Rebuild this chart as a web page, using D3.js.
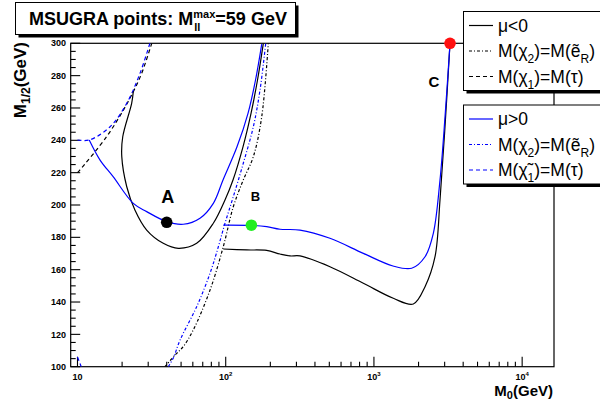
<!DOCTYPE html>
<html><head><meta charset="utf-8">
<script src="https://cdn.jsdelivr.net/npm/d3@7"></script>
<style>body{margin:0;background:#fff}svg{display:block}</style>
</head><body>
<script>
// ---------- data (M0 [GeV], M1/2 [GeV]) ----------
const xMajorTicks = [10, 100, 1000, 10000];
const xTickLabels = [["10",""],["10","2"],["10","3"],["10","4"]];
const yMajorTicks = [100,120,140,160,180,200,220,240,260,280,300];

// mu<0 (black) solid contour, U-shaped branch
const negSolidU = [[23.8,270.1],[23.2,262.9],[20.2,242.2],[19.9,229.9],[21.5,211.3],[24.4,196.9],[29.3,184.5],[37.9,176.3],[47.9,173.2],[63.7,176.3],[82.5,188.7],[98.9,203.1],[112,215.5],[130.8,236],[148.2,256.7],[163.9,277.3],[179.4,300]];
// mu<0 solid contour, right branch
const negSolidR = [[96.3,172.8],[138.6,172.2],[189,171.9],[232.4,169.7],[271.6,168.5],[317,168.5],[505,161.8],[848,151.6],[1351,142.3],[1844,138.8],[2212,149.5],[2583,168],[2791,203.1],[3000,245],[3261,300]];
// mu>0 (blue) solid contour, U-shaped branch
const posSolidU = [[12,240.2],[14.2,227.8],[17.4,217.5],[23.8,201],[29.3,195.9],[40,189.7],[51.7,188.1],[67.1,191.8],[82.5,201],[95.9,215.5],[119.2,236],[141.4,256.7],[158.9,277.3],[175,299.5]];
// mu>0 solid contour, right branch
const posSolidR = [[96.3,187.6],[148.9,187.4],[189,186.6],[232.4,185],[317,184.5],[505,179.4],[848,170.1],[1345,162.3],[1798,160.9],[2212,168],[2516,182.5],[2791,215.5],[3020,255],[3261,300]];
// M(chi2)=M(eR) lines (dash-dot)
const negChi2 = [[38.9,100],[45.5,107.2],[51.5,112.2],[60.4,122.7],[78.4,147.4],[96.3,174.2],[112.5,198.9],[131.4,215.5],[153.6,229.9],[175,254.6],[193.8,300]];
const posChi2 = [[41,100],[44.3,105.4],[49.2,116.5],[63.7,137.1],[78.4,157.8],[89.2,174.2],[98.9,188.7],[112.5,205.1],[131.4,225.8],[153.6,248.4],[170.4,271.1],[186.2,300]];
// M(chi1)=M(stau) lines (dashed)
const negChi1 = [[10,220],[10.4,221.7],[15.7,242.2],[20.4,258.7],[23.8,270.1],[27.1,281.4],[31.7,300]];
const posChi1 = [[10,240.2],[12,240.2],[16.6,248.4],[21.5,262.9],[26.4,281.4],[30.8,300]];
const posChi1Low = [[10,106],[10.6,100]];
// benchmark points
const pointNames = ["A","B","C"];
const pointM0 = [40, 149, 3261];
const pointM12 = [189.3, 187.5, 300];
const pointColors = ["#000000", "#22ee22", "#ff1010"];

// ---------- drawing ----------
const W = 600, H = 402;
const FONT = "'Liberation Sans', Arial, Helvetica, sans-serif";
const svg = d3.select("body").append("svg").attr("width", W).attr("height", H)
  .style("font-family", FONT);

const x = d3.scaleLog().domain([9, 16400]).range([70.7, 554]);
const y = d3.scaleLinear().domain([100, 300]).range([366.7, 43.3]);

svg.append("clipPath").attr("id","clip").append("rect")
  .attr("x", x.range()[0]).attr("y", y.range()[1])
  .attr("width", x.range()[1]-x.range()[0]).attr("height", y.range()[0]-y.range()[1]);

// frame
svg.append("rect").attr("x", x.range()[0]).attr("y", y.range()[1])
  .attr("width", x.range()[1]-x.range()[0]).attr("height", y.range()[0]-y.range()[1])
  .attr("fill","none").attr("stroke","#000").attr("stroke-width",1.2);

// y ticks
const yt = svg.append("g");
for (let v = 100; v <= 300; v += 5) {
  const major = v % 20 === 0;
  yt.append("line").attr("x1", x.range()[0]).attr("x2", x.range()[0] + (major ? 9.5 : 5))
    .attr("y1", y(v)).attr("y2", y(v)).attr("stroke","#000").attr("stroke-width",1.1);
}
yt.selectAll("text").data(yMajorTicks).join("text")
  .attr("x", 66).attr("y", d => y(d)).attr("dy","0.35em").attr("text-anchor","end")
  .attr("font-size", 9).attr("font-weight","bold").text(d => d);

// x ticks
const xt = svg.append("g");
const minorX = [];
[10,100,1000,10000].forEach(dec => { for (let k = 1; k <= 9; k++) { const v = dec*k; if (v >= 9 && v <= 16400) minorX.push(v); } });
minorX.forEach(v => {
  const major = xMajorTicks.includes(v);
  xt.append("line").attr("x1", x(v)).attr("x2", x(v)).attr("y1", y.range()[0])
    .attr("y2", y.range()[0] - (major ? 10 : 5)).attr("stroke","#000").attr("stroke-width",1.1);
});
xMajorTicks.forEach((v, i) => {
  const t = xt.append("text").attr("x", x(v)).attr("y", 380).attr("text-anchor","middle")
    .attr("font-size", 9).attr("font-weight","bold");
  t.append("tspan").text(xTickLabels[i][0]);
  if (xTickLabels[i][1]) t.append("tspan").attr("dy",-4).attr("font-size",6).text(xTickLabels[i][1]);
});

// axis titles
const xl = svg.append("text").attr("x", 553).attr("y", 396).attr("text-anchor","end")
  .attr("font-size", 15).attr("font-weight","bold");
xl.append("tspan").text("M");
xl.append("tspan").attr("dy",3).attr("font-size",11).text("0");
xl.append("tspan").attr("dy",-3).text("(GeV)");

const yl = svg.append("text").attr("transform","translate(26,42) rotate(-90)").attr("text-anchor","end")
  .attr("font-size", 17).attr("font-weight","bold");
yl.append("tspan").text("M");
yl.append("tspan").attr("dy",4).attr("font-size",12).text("1/2");
yl.append("tspan").attr("dy",-4).text("(GeV)");

// curves
const line = d3.line().x(d => x(d[0])).y(d => y(d[1])).curve(d3.curveCatmullRom.alpha(0.5));
const plot = svg.append("g").attr("clip-path","url(#clip)");
const DASH = "4,3", DASHDOT = "3,2,1,2";
const curves = [
  [negChi1, "#000", DASH], [posChi1, "#0000ff", DASH], [posChi1Low, "#0000ff", DASH],
  [negChi2, "#000", DASHDOT], [posChi2, "#0000ff", DASHDOT],
  [negSolidU, "#000", null], [negSolidR, "#000", null],
  [posSolidU, "#0000ff", null], [posSolidR, "#0000ff", null]
];
curves.forEach(([data, col, dash]) => {
  plot.append("path").attr("d", line(data)).attr("fill","none").attr("stroke", col)
    .attr("stroke-width", 1.2).attr("stroke-dasharray", dash);
});

// benchmark points
pointNames.forEach((n, i) => {
  svg.append("circle").attr("cx", x(pointM0[i])).attr("cy", y(pointM12[i])).attr("r", 5.8)
    .attr("fill", pointColors[i]);
});
svg.append("text").attr("x", x(pointM0[0])+1).attr("y", 203).attr("text-anchor","middle")
  .attr("font-size", 18).attr("font-weight","bold").text(pointNames[0]);
svg.append("text").attr("x", x(pointM0[1])+4).attr("y", 201).attr("text-anchor","middle")
  .attr("font-size", 13).attr("font-weight","bold").text(pointNames[1]);
svg.append("text").attr("x", 434).attr("y", 87).attr("text-anchor","middle")
  .attr("font-size", 15).attr("font-weight","bold").text(pointNames[2]);

// title pave
function pave(x0, y0, w, h) {
  svg.append("rect").attr("x", x0+3).attr("y", y0+3).attr("width", w).attr("height", h).attr("fill","#000");
  svg.append("rect").attr("x", x0).attr("y", y0).attr("width", w).attr("height", h)
    .attr("fill","#fff").attr("stroke","#000").attr("stroke-width",1);
}
pave(15.5, 2.5, 280, 32);
const tx = 29;
const tt = svg.append("text").attr("x", tx).attr("y", 25).attr("font-size", 18).attr("font-weight","bold");
tt.append("tspan").text("MSUGRA points: M");
tt.append("tspan").attr("dy",-7).attr("font-size",11).text("max");
tt.append("tspan").attr("dy",7).text("=59 GeV");
(function(){
  const mEnd = tt.node().getSubStringLength(0, 16);
  svg.append("text").attr("x", tx + mEnd + 1).attr("y", 31).attr("font-size", 11)
    .attr("font-weight","bold").text("ll");
})();

// legends
function legend(y0, entries, col) {
  pave(463.5, y0, 150, 79);
  entries.forEach((e, i) => {
    const cy = y0 + 14 + i*25.5;
    svg.append("line").attr("x1", 469).attr("x2", 493).attr("y1", cy).attr("y2", cy)
      .attr("stroke", col).attr("stroke-width", 1.2).attr("stroke-dasharray", e.dash);
    const t = svg.append("text").attr("x", 498).attr("y", cy + 6).attr("font-size", 17.5);
    e.parts.forEach(p => {
      const s = t.append("tspan").text(p[0]);
      if (p[1] === "sub") s.attr("dy", 6).attr("font-size", 12);
      if (p[1] === "back") s.attr("dy", -6);
    });
  });
}
legend(11.5, [
  {dash:null, parts:[["μ<0"]]},
  {dash:DASHDOT, parts:[["M(χ"],["2","sub"],[")=M(ẽ","back"],["R","sub"],[")","back"]]},
  {dash:DASH, parts:[["M(χ"],["1","sub"],[")=M(τ)","back"]]}
], "#000");
legend(105, [
  {dash:null, parts:[["μ>0"]]},
  {dash:DASHDOT, parts:[["M(χ"],["2","sub"],[")=M(ẽ","back"],["R","sub"],[")","back"]]},
  {dash:DASH, parts:[["M(χ̃"],["1","sub"],[")=M(τ)","back"]]}
], "#0000ff");
</script>
</body></html>
